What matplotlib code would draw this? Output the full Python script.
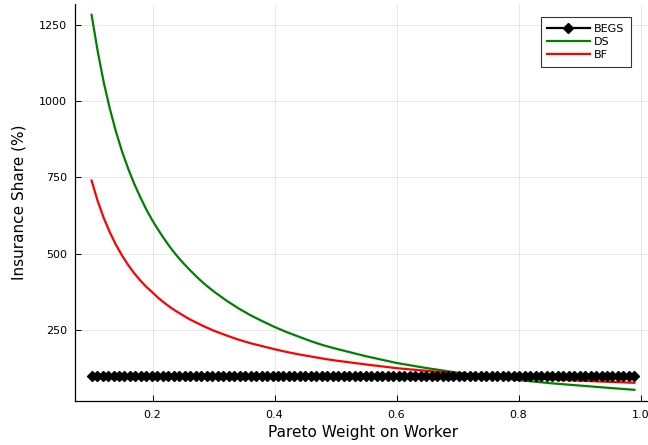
import numpy as np
import matplotlib
matplotlib.use('Agg')
import matplotlib.pyplot as plt

weights = [0.10, 0.11, 0.12, 0.13, 0.14, 0.15, 0.16, 0.17, 0.18, 0.19, 0.20,
           0.21, 0.22, 0.23, 0.24, 0.25, 0.26, 0.27, 0.28, 0.29, 0.30,
           0.32, 0.34, 0.36, 0.38, 0.40, 0.42, 0.44, 0.46, 0.48, 0.50,
           0.55, 0.60, 0.65, 0.70, 0.75, 0.80, 0.85, 0.90, 0.95, 0.99]
ds_share = [1283, 1164, 1061, 975, 900, 835, 779, 729, 685, 644, 608,
            576, 546, 518, 493, 470, 449, 429, 410, 393, 377,
            348, 322, 299, 279, 260, 243, 228, 213, 200, 189,
            164, 142, 125, 110, 97, 86, 76, 68, 60, 54]
bf_share = [740, 673, 617, 570, 529, 494, 463, 436, 412, 391, 373,
            354, 338, 323, 310, 298, 286, 276, 266, 257, 248,
            233, 219, 207, 197, 187, 178, 170, 163, 156, 150,
            137, 125, 116, 108, 101, 95, 89, 84, 80, 77]

# BEGS is flat at 100% on a 100 point grid
begs_weights = np.linspace(0.10, 0.99, 100)
begs_share = [100.0] * len(begs_weights)

fig = plt.figure(figsize=(6.48, 4.45), dpi=100)
W, H = 648, 445
left, right, top, bottom = 75.3, 650.7, 3.6, 401.4
ax = fig.add_axes([left / W, (H - bottom) / H, (right - left) / W, (bottom - top) / H])

ax.plot(begs_weights, begs_share, color='black', lw=1.6, marker='D', ms=4.6,
        label='BEGS', zorder=3)
ax.plot(weights, ds_share, color='green', lw=1.6, label='DS', zorder=2)
ax.plot(weights, bf_share, color='red', lw=1.6, label='BF', zorder=2)

ax.set_xlim(0.0733, 1.0167)
ax.set_ylim(16, 1320)
ax.set_xticks([0.2, 0.4, 0.6, 0.8, 1.0])
ax.set_yticks([250, 500, 750, 1000, 1250])
ax.set_xticklabels(['0.2', '0.4', '0.6', '0.8', '1.0'])

ax.grid(True, color='black', alpha=0.1, lw=0.6)
ax.set_axisbelow(True)
for side in ['top', 'right']:
    ax.spines[side].set_visible(False)
for side in ['left', 'bottom']:
    ax.spines[side].set_linewidth(0.9)
ax.tick_params(direction='in', length=4, width=0.7, labelsize=8, pad=6)

ax.set_xlabel('Pareto Weight on Worker', fontsize=11, labelpad=4)
ax.set_ylabel('Insurance Share (%)', fontsize=11, labelpad=9)

leg = ax.legend(loc='upper right', bbox_to_anchor=(631 / W, (H - 17) / H),
                bbox_transform=fig.transFigure, fontsize=8, frameon=True,
                fancybox=False, borderpad=0.6, labelspacing=0.3,
                handlelength=3.8, handletextpad=0.4, borderaxespad=0)
leg.get_frame().set_edgecolor('black')
leg.get_frame().set_linewidth(0.8)

fig.savefig('out.png', dpi=100)
